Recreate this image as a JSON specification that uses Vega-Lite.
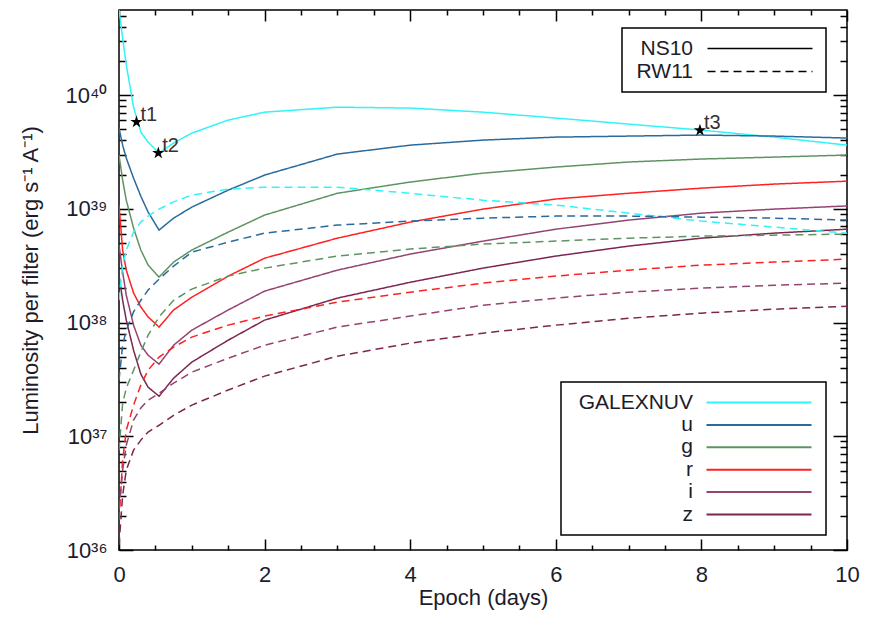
{
"$schema": "https://vega.github.io/schema/vega-lite/v6.json",
"width": 728, "height": 540,
"autosize": "none",
"padding": {"left": 119, "top": 10, "right": 24, "bottom": 70},
"background": "white",
"config": {
  "view": {"stroke": "black", "strokeWidth": 1.5},
  "font": "Liberation Sans",
  "axis": {"domain": false, "labelFont": "Liberation Sans", "labelFontSize": 22, "labelColor": "#1c1c2c", "titleFont": "Liberation Sans", "titleFontSize": 22, "titleFontWeight": "normal", "titleColor": "#1c1c2c"},
  "legend": {"labelFont": "Liberation Sans", "labelFontSize": 21, "labelColor": "#1c1c2c", "strokeColor": "black", "strokeWidth": 1.5, "fillColor": "white"}
},
"datasets": {
"curves": [
{"epoch":0,"lum":5.6e40,"band":"GALEXNUV","model":"NS10"},{"epoch":0.05,"lum":3.17e40,"band":"GALEXNUV","model":"NS10"},{"epoch":0.1,"lum":1.84e40,"band":"GALEXNUV","model":"NS10"},{"epoch":0.2,"lum":7.83e39,"band":"GALEXNUV","model":"NS10"},{"epoch":0.3,"lum":4.73e39,"band":"GALEXNUV","model":"NS10"},{"epoch":0.4,"lum":3.86e39,"band":"GALEXNUV","model":"NS10"},{"epoch":0.55,"lum":3.09e39,"band":"GALEXNUV","model":"NS10"},{"epoch":0.75,"lum":3.79e39,"band":"GALEXNUV","model":"NS10"},{"epoch":1,"lum":4.63e39,"band":"GALEXNUV","model":"NS10"},{"epoch":1.5,"lum":6.03e39,"band":"GALEXNUV","model":"NS10"},{"epoch":2,"lum":7.08e39,"band":"GALEXNUV","model":"NS10"},{"epoch":3,"lum":7.83e39,"band":"GALEXNUV","model":"NS10"},{"epoch":4,"lum":7.69e39,"band":"GALEXNUV","model":"NS10"},{"epoch":5,"lum":7.08e39,"band":"GALEXNUV","model":"NS10"},{"epoch":6,"lum":6.28e39,"band":"GALEXNUV","model":"NS10"},{"epoch":7,"lum":5.56e39,"band":"GALEXNUV","model":"NS10"},{"epoch":8,"lum":4.92e39,"band":"GALEXNUV","model":"NS10"},{"epoch":9,"lum":4.27e39,"band":"GALEXNUV","model":"NS10"},{"epoch":10,"lum":3.63e39,"band":"GALEXNUV","model":"NS10"},
{"epoch":0,"lum":5.13e39,"band":"u","model":"NS10"},{"epoch":0.05,"lum":3.63e39,"band":"u","model":"NS10"},{"epoch":0.1,"lum":2.79e39,"band":"u","model":"NS10"},{"epoch":0.2,"lum":1.86e39,"band":"u","model":"NS10"},{"epoch":0.3,"lum":1.29e39,"band":"u","model":"NS10"},{"epoch":0.4,"lum":9.36e38,"band":"u","model":"NS10"},{"epoch":0.55,"lum":6.5e38,"band":"u","model":"NS10"},{"epoch":0.75,"lum":8.28e38,"band":"u","model":"NS10"},{"epoch":1,"lum":1.035e39,"band":"u","model":"NS10"},{"epoch":1.5,"lum":1.46e39,"band":"u","model":"NS10"},{"epoch":2,"lum":1.98e39,"band":"u","model":"NS10"},{"epoch":3,"lum":3.03e39,"band":"u","model":"NS10"},{"epoch":4,"lum":3.63e39,"band":"u","model":"NS10"},{"epoch":5,"lum":4.02e39,"band":"u","model":"NS10"},{"epoch":6,"lum":4.27e39,"band":"u","model":"NS10"},{"epoch":7,"lum":4.36e39,"band":"u","model":"NS10"},{"epoch":8,"lum":4.45e39,"band":"u","model":"NS10"},{"epoch":9,"lum":4.36e39,"band":"u","model":"NS10"},{"epoch":10,"lum":4.19e39,"band":"u","model":"NS10"},
{"epoch":0,"lum":2.97e39,"band":"g","model":"NS10"},{"epoch":0.05,"lum":1.79e39,"band":"g","model":"NS10"},{"epoch":0.1,"lum":1.19e39,"band":"g","model":"NS10"},{"epoch":0.2,"lum":6.77e38,"band":"g","model":"NS10"},{"epoch":0.3,"lum":4.34e38,"band":"g","model":"NS10"},{"epoch":0.4,"lum":3.2e38,"band":"g","model":"NS10"},{"epoch":0.55,"lum":2.51e38,"band":"g","model":"NS10"},{"epoch":0.75,"lum":3.4e38,"band":"g","model":"NS10"},{"epoch":1,"lum":4.34e38,"band":"g","model":"NS10"},{"epoch":1.5,"lum":6.24e38,"band":"g","model":"NS10"},{"epoch":2,"lum":8.81e38,"band":"g","model":"NS10"},{"epoch":3,"lum":1.37e39,"band":"g","model":"NS10"},{"epoch":4,"lum":1.72e39,"band":"g","model":"NS10"},{"epoch":5,"lum":2.06e39,"band":"g","model":"NS10"},{"epoch":6,"lum":2.33e39,"band":"g","model":"NS10"},{"epoch":7,"lum":2.58e39,"band":"g","model":"NS10"},{"epoch":8,"lum":2.74e39,"band":"g","model":"NS10"},{"epoch":9,"lum":2.85e39,"band":"g","model":"NS10"},{"epoch":10,"lum":2.97e39,"band":"g","model":"NS10"},
{"epoch":0,"lum":1.08e39,"band":"r","model":"NS10"},{"epoch":0.05,"lum":4.34e38,"band":"r","model":"NS10"},{"epoch":0.1,"lum":2.89e38,"band":"r","model":"NS10"},{"epoch":0.2,"lum":1.82e38,"band":"r","model":"NS10"},{"epoch":0.3,"lum":1.37e38,"band":"r","model":"NS10"},{"epoch":0.4,"lum":1.12e38,"band":"r","model":"NS10"},{"epoch":0.55,"lum":9.12e37,"band":"r","model":"NS10"},{"epoch":0.75,"lum":1.29e38,"band":"r","model":"NS10"},{"epoch":1,"lum":1.67e38,"band":"r","model":"NS10"},{"epoch":1.5,"lum":2.56e38,"band":"r","model":"NS10"},{"epoch":2,"lum":3.68e38,"band":"r","model":"NS10"},{"epoch":3,"lum":5.52e38,"band":"r","model":"NS10"},{"epoch":4,"lum":7.64e38,"band":"r","model":"NS10"},{"epoch":5,"lum":9.94e38,"band":"r","model":"NS10"},{"epoch":6,"lum":1.22e39,"band":"r","model":"NS10"},{"epoch":7,"lum":1.37e39,"band":"r","model":"NS10"},{"epoch":8,"lum":1.52e39,"band":"r","model":"NS10"},{"epoch":9,"lum":1.65e39,"band":"r","model":"NS10"},{"epoch":10,"lum":1.75e39,"band":"r","model":"NS10"},
{"epoch":0,"lum":4.8e38,"band":"i","model":"NS10"},{"epoch":0.05,"lum":2.77e38,"band":"i","model":"NS10"},{"epoch":0.1,"lum":1.74e38,"band":"i","model":"NS10"},{"epoch":0.2,"lum":9.49e37,"band":"i","model":"NS10"},{"epoch":0.3,"lum":6.32e37,"band":"i","model":"NS10"},{"epoch":0.4,"lum":5.16e37,"band":"i","model":"NS10"},{"epoch":0.55,"lum":4.31e37,"band":"i","model":"NS10"},{"epoch":0.75,"lum":6.32e37,"band":"i","model":"NS10"},{"epoch":1,"lum":8.57e37,"band":"i","model":"NS10"},{"epoch":1.5,"lum":1.29e38,"band":"i","model":"NS10"},{"epoch":2,"lum":1.89e38,"band":"i","model":"NS10"},{"epoch":3,"lum":2.89e38,"band":"i","model":"NS10"},{"epoch":4,"lum":4.0e38,"band":"i","model":"NS10"},{"epoch":5,"lum":5.2e38,"band":"i","model":"NS10"},{"epoch":6,"lum":6.62e38,"band":"i","model":"NS10"},{"epoch":7,"lum":7.96e38,"band":"i","model":"NS10"},{"epoch":8,"lum":9.16e38,"band":"i","model":"NS10"},{"epoch":9,"lum":9.94e38,"band":"i","model":"NS10"},{"epoch":10,"lum":1.06e39,"band":"i","model":"NS10"},
{"epoch":0,"lum":2.61e38,"band":"z","model":"NS10"},{"epoch":0.05,"lum":1.57e38,"band":"z","model":"NS10"},{"epoch":0.1,"lum":1.05e38,"band":"z","model":"NS10"},{"epoch":0.2,"lum":5.71e37,"band":"z","model":"NS10"},{"epoch":0.3,"lum":3.52e37,"band":"z","model":"NS10"},{"epoch":0.4,"lum":2.7e37,"band":"z","model":"NS10"},{"epoch":0.55,"lum":2.25e37,"band":"z","model":"NS10"},{"epoch":0.75,"lum":3.24e37,"band":"z","model":"NS10"},{"epoch":1,"lum":4.49e37,"band":"z","model":"NS10"},{"epoch":1.5,"lum":7.0e37,"band":"z","model":"NS10"},{"epoch":2,"lum":1.05e38,"band":"z","model":"NS10"},{"epoch":3,"lum":1.64e38,"band":"z","model":"NS10"},{"epoch":4,"lum":2.26e38,"band":"z","model":"NS10"},{"epoch":5,"lum":3.01e38,"band":"z","model":"NS10"},{"epoch":6,"lum":3.84e38,"band":"z","model":"NS10"},{"epoch":7,"lum":4.7e38,"band":"z","model":"NS10"},{"epoch":8,"lum":5.52e38,"band":"z","model":"NS10"},{"epoch":9,"lum":6.11e38,"band":"z","model":"NS10"},{"epoch":10,"lum":6.62e38,"band":"z","model":"NS10"},
{"epoch":0,"lum":1.57e38,"band":"GALEXNUV","model":"RW11"},{"epoch":0.05,"lum":3.2e38,"band":"GALEXNUV","model":"RW11"},{"epoch":0.1,"lum":4.34e38,"band":"GALEXNUV","model":"RW11"},{"epoch":0.2,"lum":6.24e38,"band":"GALEXNUV","model":"RW11"},{"epoch":0.3,"lum":7.64e38,"band":"GALEXNUV","model":"RW11"},{"epoch":0.4,"lum":8.63e38,"band":"GALEXNUV","model":"RW11"},{"epoch":0.55,"lum":9.94e38,"band":"GALEXNUV","model":"RW11"},{"epoch":0.75,"lum":1.15e39,"band":"GALEXNUV","model":"RW11"},{"epoch":1,"lum":1.32e39,"band":"GALEXNUV","model":"RW11"},{"epoch":1.5,"lum":1.49e39,"band":"GALEXNUV","model":"RW11"},{"epoch":2,"lum":1.55e39,"band":"GALEXNUV","model":"RW11"},{"epoch":3,"lum":1.55e39,"band":"GALEXNUV","model":"RW11"},{"epoch":4,"lum":1.37e39,"band":"GALEXNUV","model":"RW11"},{"epoch":5,"lum":1.19e39,"band":"GALEXNUV","model":"RW11"},{"epoch":6,"lum":1.08e39,"band":"GALEXNUV","model":"RW11"},{"epoch":7,"lum":9.16e38,"band":"GALEXNUV","model":"RW11"},{"epoch":8,"lum":7.8e38,"band":"GALEXNUV","model":"RW11"},{"epoch":9,"lum":6.9e38,"band":"GALEXNUV","model":"RW11"},{"epoch":10,"lum":6.11e38,"band":"GALEXNUV","model":"RW11"},
{"epoch":0,"lum":3.11e37,"band":"u","model":"RW11"},{"epoch":0.05,"lum":6.32e37,"band":"u","model":"RW11"},{"epoch":0.1,"lum":8.57e37,"band":"u","model":"RW11"},{"epoch":0.2,"lum":1.24e38,"band":"u","model":"RW11"},{"epoch":0.3,"lum":1.57e38,"band":"u","model":"RW11"},{"epoch":0.4,"lum":1.93e38,"band":"u","model":"RW11"},{"epoch":0.55,"lum":2.41e38,"band":"u","model":"RW11"},{"epoch":0.75,"lum":3.13e38,"band":"u","model":"RW11"},{"epoch":1,"lum":4.16e38,"band":"u","model":"RW11"},{"epoch":1.5,"lum":5.09e38,"band":"u","model":"RW11"},{"epoch":2,"lum":6.11e38,"band":"u","model":"RW11"},{"epoch":3,"lum":7.19e38,"band":"u","model":"RW11"},{"epoch":4,"lum":7.8e38,"band":"u","model":"RW11"},{"epoch":5,"lum":8.28e38,"band":"u","model":"RW11"},{"epoch":6,"lum":8.63e38,"band":"u","model":"RW11"},{"epoch":7,"lum":8.63e38,"band":"u","model":"RW11"},{"epoch":8,"lum":8.45e38,"band":"u","model":"RW11"},{"epoch":9,"lum":8.28e38,"band":"u","model":"RW11"},{"epoch":10,"lum":7.96e38,"band":"u","model":"RW11"},
{"epoch":0,"lum":7.55e36,"band":"g","model":"RW11"},{"epoch":0.05,"lum":1.95e37,"band":"g","model":"RW11"},{"epoch":0.1,"lum":2.65e37,"band":"g","model":"RW11"},{"epoch":0.2,"lum":3.81e37,"band":"g","model":"RW11"},{"epoch":0.3,"lum":5.5e37,"band":"g","model":"RW11"},{"epoch":0.4,"lum":7.75e37,"band":"g","model":"RW11"},{"epoch":0.55,"lum":1.12e38,"band":"g","model":"RW11"},{"epoch":0.75,"lum":1.57e38,"band":"g","model":"RW11"},{"epoch":1,"lum":1.97e38,"band":"g","model":"RW11"},{"epoch":1.5,"lum":2.56e38,"band":"g","model":"RW11"},{"epoch":2,"lum":3.01e38,"band":"g","model":"RW11"},{"epoch":3,"lum":3.84e38,"band":"g","model":"RW11"},{"epoch":4,"lum":4.43e38,"band":"g","model":"RW11"},{"epoch":5,"lum":4.9e38,"band":"g","model":"RW11"},{"epoch":6,"lum":5.2e38,"band":"g","model":"RW11"},{"epoch":7,"lum":5.52e38,"band":"g","model":"RW11"},{"epoch":8,"lum":5.75e38,"band":"g","model":"RW11"},{"epoch":9,"lum":5.87e38,"band":"g","model":"RW11"},{"epoch":10,"lum":5.99e38,"band":"g","model":"RW11"},
{"epoch":0,"lum":1.83e36,"band":"r","model":"RW11"},{"epoch":0.05,"lum":6.17e36,"band":"r","model":"RW11"},{"epoch":0.1,"lum":1.13e37,"band":"r","model":"RW11"},{"epoch":0.2,"lum":1.88e37,"band":"r","model":"RW11"},{"epoch":0.3,"lum":2.82e37,"band":"r","model":"RW11"},{"epoch":0.4,"lum":3.81e37,"band":"r","model":"RW11"},{"epoch":0.55,"lum":4.97e37,"band":"r","model":"RW11"},{"epoch":0.75,"lum":6.08e37,"band":"r","model":"RW11"},{"epoch":1,"lum":7.45e37,"band":"r","model":"RW11"},{"epoch":1.5,"lum":9.49e37,"band":"r","model":"RW11"},{"epoch":2,"lum":1.14e38,"band":"r","model":"RW11"},{"epoch":3,"lum":1.51e38,"band":"r","model":"RW11"},{"epoch":4,"lum":1.85e38,"band":"r","model":"RW11"},{"epoch":5,"lum":2.22e38,"band":"r","model":"RW11"},{"epoch":6,"lum":2.56e38,"band":"r","model":"RW11"},{"epoch":7,"lum":2.89e38,"band":"r","model":"RW11"},{"epoch":8,"lum":3.2e38,"band":"r","model":"RW11"},{"epoch":9,"lum":3.4e38,"band":"r","model":"RW11"},{"epoch":10,"lum":3.61e38,"band":"r","model":"RW11"},
{"epoch":0,"lum":2.24e36,"band":"i","model":"RW11"},{"epoch":0.05,"lum":5.03e36,"band":"i","model":"RW11"},{"epoch":0.1,"lum":8.36e36,"band":"i","model":"RW11"},{"epoch":0.2,"lum":1.39e37,"band":"i","model":"RW11"},{"epoch":0.3,"lum":1.77e37,"band":"i","model":"RW11"},{"epoch":0.4,"lum":2.08e37,"band":"i","model":"RW11"},{"epoch":0.55,"lum":2.39e37,"band":"i","model":"RW11"},{"epoch":0.75,"lum":2.93e37,"band":"i","model":"RW11"},{"epoch":1,"lum":3.66e37,"band":"i","model":"RW11"},{"epoch":1.5,"lum":4.86e37,"band":"i","model":"RW11"},{"epoch":2,"lum":6.32e37,"band":"i","model":"RW11"},{"epoch":3,"lum":9.12e37,"band":"i","model":"RW11"},{"epoch":4,"lum":1.14e38,"band":"i","model":"RW11"},{"epoch":5,"lum":1.42e38,"band":"i","model":"RW11"},{"epoch":6,"lum":1.64e38,"band":"i","model":"RW11"},{"epoch":7,"lum":1.85e38,"band":"i","model":"RW11"},{"epoch":8,"lum":2.01e38,"band":"i","model":"RW11"},{"epoch":9,"lum":2.13e38,"band":"i","model":"RW11"},{"epoch":10,"lum":2.22e38,"band":"i","model":"RW11"},
{"epoch":0,"lum":1.1e36,"band":"z","model":"RW11"},{"epoch":0.05,"lum":3.03e36,"band":"z","model":"RW11"},{"epoch":0.1,"lum":5.03e36,"band":"z","model":"RW11"},{"epoch":0.2,"lum":7.55e36,"band":"z","model":"RW11"},{"epoch":0.3,"lum":9.25e36,"band":"z","model":"RW11"},{"epoch":0.4,"lum":1.09e37,"band":"z","model":"RW11"},{"epoch":0.55,"lum":1.25e37,"band":"z","model":"RW11"},{"epoch":0.75,"lum":1.53e37,"band":"z","model":"RW11"},{"epoch":1,"lum":1.88e37,"band":"z","model":"RW11"},{"epoch":1.5,"lum":2.55e37,"band":"z","model":"RW11"},{"epoch":2,"lum":3.38e37,"band":"z","model":"RW11"},{"epoch":3,"lum":5.06e37,"band":"z","model":"RW11"},{"epoch":4,"lum":6.59e37,"band":"z","model":"RW11"},{"epoch":5,"lum":8.07e37,"band":"z","model":"RW11"},{"epoch":6,"lum":9.49e37,"band":"z","model":"RW11"},{"epoch":7,"lum":1.09e38,"band":"z","model":"RW11"},{"epoch":8,"lum":1.21e38,"band":"z","model":"RW11"},{"epoch":9,"lum":1.31e38,"band":"z","model":"RW11"},{"epoch":10,"lum":1.39e38,"band":"z","model":"RW11"}
],
"stars": [
{"epoch":0.24,"lum":5.8e39,"label":"t1"},
{"epoch":0.54,"lum":3.1e39,"label":"t2"},
{"epoch":7.98,"lum":4.9e39,"label":"t3"}
]
},
"layer": [
{
  "data": {"name": "curves"},
  "transform": [{"filter": "datum.model == 'NS10'"}],
  "mark": {"type": "line", "strokeWidth": 1.5, "clip": true},
  "encoding": {
    "x": {"field": "epoch", "type": "quantitative", "scale": {"domain": [0, 10], "nice": false, "zero": false},
      "axis": {"orient": "bottom", "title": "Epoch (days)", "values": [0,2,4,6,8,10], "labelExpr": "format(datum.value, 'd')", "labelFlush": false,
        "ticks": false, "tickSize": 0, "labelPadding": 14, "titlePadding": 2,
        "grid": true, "gridColor": "black", "gridWidth": 1.5, "gridOpacity": 1, "gridDash": [11, 518, 11, 100]}},
    "y": {"field": "lum", "type": "quantitative", "scale": {"type": "log", "domain": [1e36, 5.6e40], "nice": false},
      "axis": {"orient": "left", "title": "Luminosity per filter (erg s⁻¹ A⁻¹)",
        "values": [1e36,1e37,1e38,1e39,1e40], "labelFlush": false, "labelOverlap": false,
        "labelExpr": "round(log(datum.value)/LN10) == 36 ? '10³⁶' : round(log(datum.value)/LN10) == 37 ? '10³⁷' : round(log(datum.value)/LN10) == 38 ? '10³⁸' : round(log(datum.value)/LN10) == 39 ? '10³⁹' : '10⁴⁰'",
        "ticks": false, "tickSize": 0, "labelPadding": 12, "titlePadding": 23,
        "grid": true, "gridColor": "black", "gridWidth": 1.5, "gridOpacity": 1, "gridDash": [14, 700, 14, 100]}},
    "color": {"field": "band", "type": "nominal",
      "scale": {"domain": ["GALEXNUV","u","g","r","i","z"], "range": ["#30f4f8","#2a6a9c","#5f9462","#ff2020","#934470","#7c2650"]},
      "legend": {"orient": "none", "legendX": 442, "legendY": 372, "title": null, "symbolType": "M62.5,0L115,0", "symbolSize": 16, "symbolStrokeWidth": 2, "labelAlign": "right", "labelOffset": 101, "padding": 10, "rowPadding": 0.4}},
    "strokeDash": {"field": "model", "type": "nominal",
      "scale": {"domain": ["NS10","RW11"], "range": [[1,0],[8,5]]},
      "legend": {"orient": "none", "legendX": 503, "legendY": 18, "title": null, "symbolType": "M32.5,0L85,0", "symbolSize": 16, "symbolStrokeWidth": 1.5, "symbolStrokeColor": "black", "labelAlign": "right", "labelOffset": 40, "padding": 10, "rowPadding": 1}}
  }
},
{
  "data": {"name": "curves"},
  "transform": [{"filter": "datum.model == 'RW11'"}],
  "mark": {"type": "line", "strokeWidth": 1.5, "clip": true},
  "encoding": {
    "x": {"field": "epoch", "type": "quantitative",
      "axis": {"orient": "bottom", "title": null, "labels": false, "ticks": false, "tickSize": 0,
        "values": [0.5,1,1.5,2.5,3,3.5,4.5,5,5.5,6.5,7,7.5,8.5,9,9.5],
        "grid": true, "gridColor": "black", "gridWidth": 1.5, "gridOpacity": 1, "gridDash": [5, 530, 5, 100]}},
    "y": {"field": "lum", "type": "quantitative",
      "axis": {"orient": "left", "title": null, "labels": false, "ticks": false, "tickSize": 0,
        "values": [2e36,3e36,4e36,5e36,6e36,7e36,8e36,9e36,2e37,3e37,4e37,5e37,6e37,7e37,8e37,9e37,2e38,3e38,4e38,5e38,6e38,7e38,8e38,9e38,2e39,3e39,4e39,5e39,6e39,7e39,8e39,9e39,2e40,3e40,4e40,5e40],
        "grid": true, "gridColor": "black", "gridWidth": 1.5, "gridOpacity": 1, "gridDash": [7, 714, 7, 100]}},
    "color": {"field": "band", "type": "nominal"},
    "strokeDash": {"field": "model", "type": "nominal"}
  }
},
{
  "data": {"name": "stars"},
  "mark": {"type": "point", "shape": "M0,-1L0.2245,-0.309L0.951,-0.309L0.363,0.118L0.588,0.809L0,0.382L-0.588,0.809L-0.363,0.118L-0.951,-0.309L-0.2245,-0.309Z", "filled": true, "color": "black", "opacity": 1, "size": 170},
  "encoding": {
    "x": {"field": "epoch", "type": "quantitative", "axis": null},
    "y": {"field": "lum", "type": "quantitative", "axis": null}
  }
},
{
  "data": {"name": "stars"},
  "mark": {"type": "text", "align": "left", "baseline": "alphabetic", "dx": 4, "dy": -1, "fontSize": 20, "font": "Liberation Sans", "color": "#3a3030"},
  "encoding": {
    "x": {"field": "epoch", "type": "quantitative", "axis": null},
    "y": {"field": "lum", "type": "quantitative", "axis": null},
    "text": {"field": "label"}
  }
}
],
"resolve": {"axis": {"x": "independent", "y": "independent"}}
}
